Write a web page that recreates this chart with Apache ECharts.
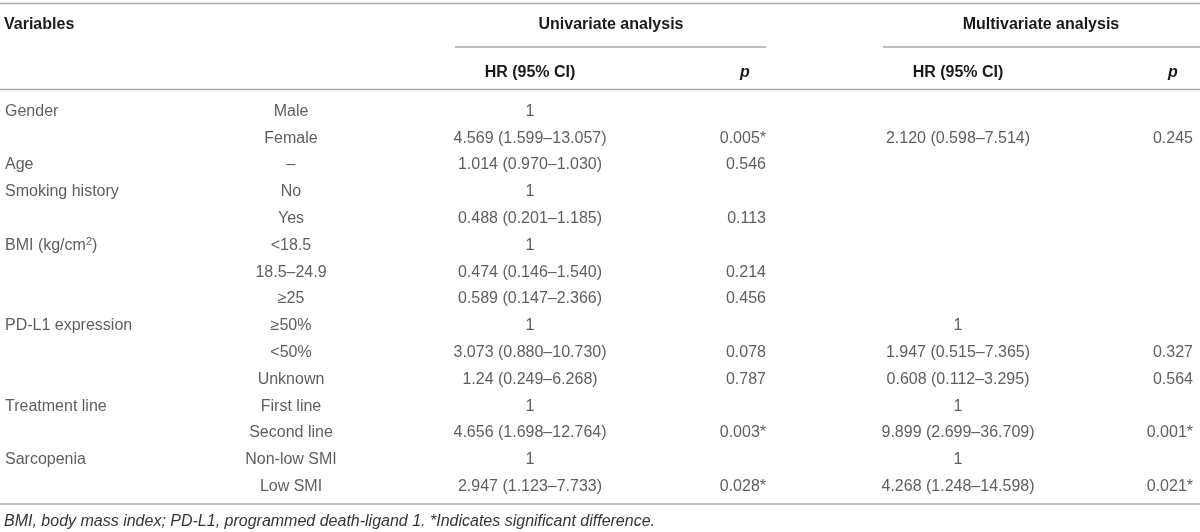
<!DOCTYPE html>
<html style="height: 100%">
<head>
  <meta charset="utf-8">
</head>
<body style="height: 100%; margin: 0; background: #fff">
  <div id="container" style="width: 1200px; height: 532px"></div>
  <script src="https://cdn.jsdelivr.net/npm/echarts/dist/echarts.min.js"></script>
  <script type="text/javascript">
    // table rows, one entry per row
    var variables = ['Gender', '', 'Age', 'Smoking history', '', 'BMI (kg/cm{sup|2})', '', '',
      'PD-L1 expression', '', '', 'Treatment line', '', 'Sarcopenia', ''];
    var subgroups = ['Male', 'Female', '–', 'No', 'Yes', '<18.5', '18.5–24.9', '≥25',
      '≥50%', '<50%', 'Unknown', 'First line', 'Second line', 'Non-low SMI', 'Low SMI'];
    var uniHR = ['1', '4.569 (1.599–13.057)', '1.014 (0.970–1.030)', '1', '0.488 (0.201–1.185)',
      '1', '0.474 (0.146–1.540)', '0.589 (0.147–2.366)', '1', '3.073 (0.880–10.730)',
      '1.24 (0.249–6.268)', '1', '4.656 (1.698–12.764)', '1', '2.947 (1.123–7.733)'];
    var uniP = ['', '0.005*', '0.546', '', '0.113', '', '0.214', '0.456', '', '0.078',
      '0.787', '', '0.003*', '', '0.028*'];
    var multiHR = ['', '2.120 (0.598–7.514)', '', '', '', '', '', '', '1',
      '1.947 (0.515–7.365)', '0.608 (0.112–3.295)', '1', '9.899 (2.699–36.709)', '1',
      '4.268 (1.248–14.598)'];
    var multiP = ['', '0.245', '', '', '', '', '', '', '', '0.327', '0.564', '', '0.001*', '', '0.021*'];

    var groupHeaders = ['Univariate analysis', 'Multivariate analysis'];
    var colHeaders = ['HR (95% CI)', 'p'];
    var footnote = 'BMI, body mass index; PD-L1, programmed death-ligand 1. *Indicates significant difference.';

    var W = 1200, H = 532;
    var FONT = '"Liberation Sans", Arial, Helvetica, sans-serif';
    var TXT = '#363636';
    var RULE = '#ababab';

    var rowKeys = variables.map(function (v, i) { return String(i); });

    // column anchors: [x, label position]
    var cols = [
      { vals: variables, x: 5, pos: 'right' },
      { vals: subgroups, x: 291, pos: 'inside' },
      { vals: uniHR, x: 530, pos: 'inside' },
      { vals: uniP, x: 766, pos: 'left' },
      { vals: multiHR, x: 958, pos: 'inside' },
      { vals: multiP, x: 1193, pos: 'left' }
    ];

    var series = cols.map(function (c) {
      var data = [];
      c.vals.forEach(function (t, i) {
        if (t !== '') data.push([c.x, i, t]);
      });
      return {
        type: 'scatter',
        silent: true,
        symbolSize: 0,
        data: data,
        label: {
          show: true,
          position: c.pos,
          distance: 0,
          formatter: function (p) { return p.value[2]; },
          color: TXT,
          fontFamily: FONT,
          fontSize: 16,
          lineHeight: 18,
          rich: {
            sup: { fontSize: 11, color: TXT, fontFamily: FONT, verticalAlign: 'top', lineHeight: 11 }
          }
        }
      };
    });

    function hline(x1, x2, y) {
      return {
        type: 'line', silent: true,
        shape: { x1: x1, y1: y, x2: x2, y2: y },
        style: { stroke: RULE, lineWidth: 1.5 }
      };
    }
    function txt(s, x, y, align, extra) {
      var st = {
        text: s, x: x, y: y, align: align, verticalAlign: 'middle',
        fontFamily: FONT, fontSize: 16, fill: TXT
      };
      for (var k in extra) st[k] = extra[k];
      return { type: 'text', silent: true, style: st };
    }
    var bold = { fontWeight: 'bold', fill: '#1a1a1a' };
    var boldIt = { fontWeight: 'bold', fontStyle: 'italic', fill: '#1a1a1a' };

    var myChart = echarts.init(document.getElementById('container'), null, { renderer: 'canvas' });
    var option = {
      animation: false,
      backgroundColor: '#fff',
      grid: { left: 0, right: 0, top: 98, height: 402 },
      xAxis: { type: 'value', min: 0, max: W, show: false },
      yAxis: { type: 'category', data: rowKeys, inverse: true, show: false },
      series: series,
      graphic: [
        hline(0, W, 3.5),
        hline(455, 766, 47),
        hline(883, W, 47),
        hline(0, W, 89.5),
        hline(0, W, 504),
        txt('Variables', 4, 24.5, 'left', bold),
        txt(groupHeaders[0], 611, 24.5, 'center', bold),
        txt(groupHeaders[1], 1041, 24.5, 'center', bold),
        txt(colHeaders[0], 530, 72.5, 'center', bold),
        txt(colHeaders[1], 745, 72.5, 'center', boldIt),
        txt(colHeaders[0], 958, 72.5, 'center', bold),
        txt(colHeaders[1], 1173, 72.5, 'center', boldIt),
        txt(footnote, 4, 521.5, 'left', { fontStyle: 'italic' })
      ]
    };
    myChart.setOption(option);
  </script>
</body>
</html>
